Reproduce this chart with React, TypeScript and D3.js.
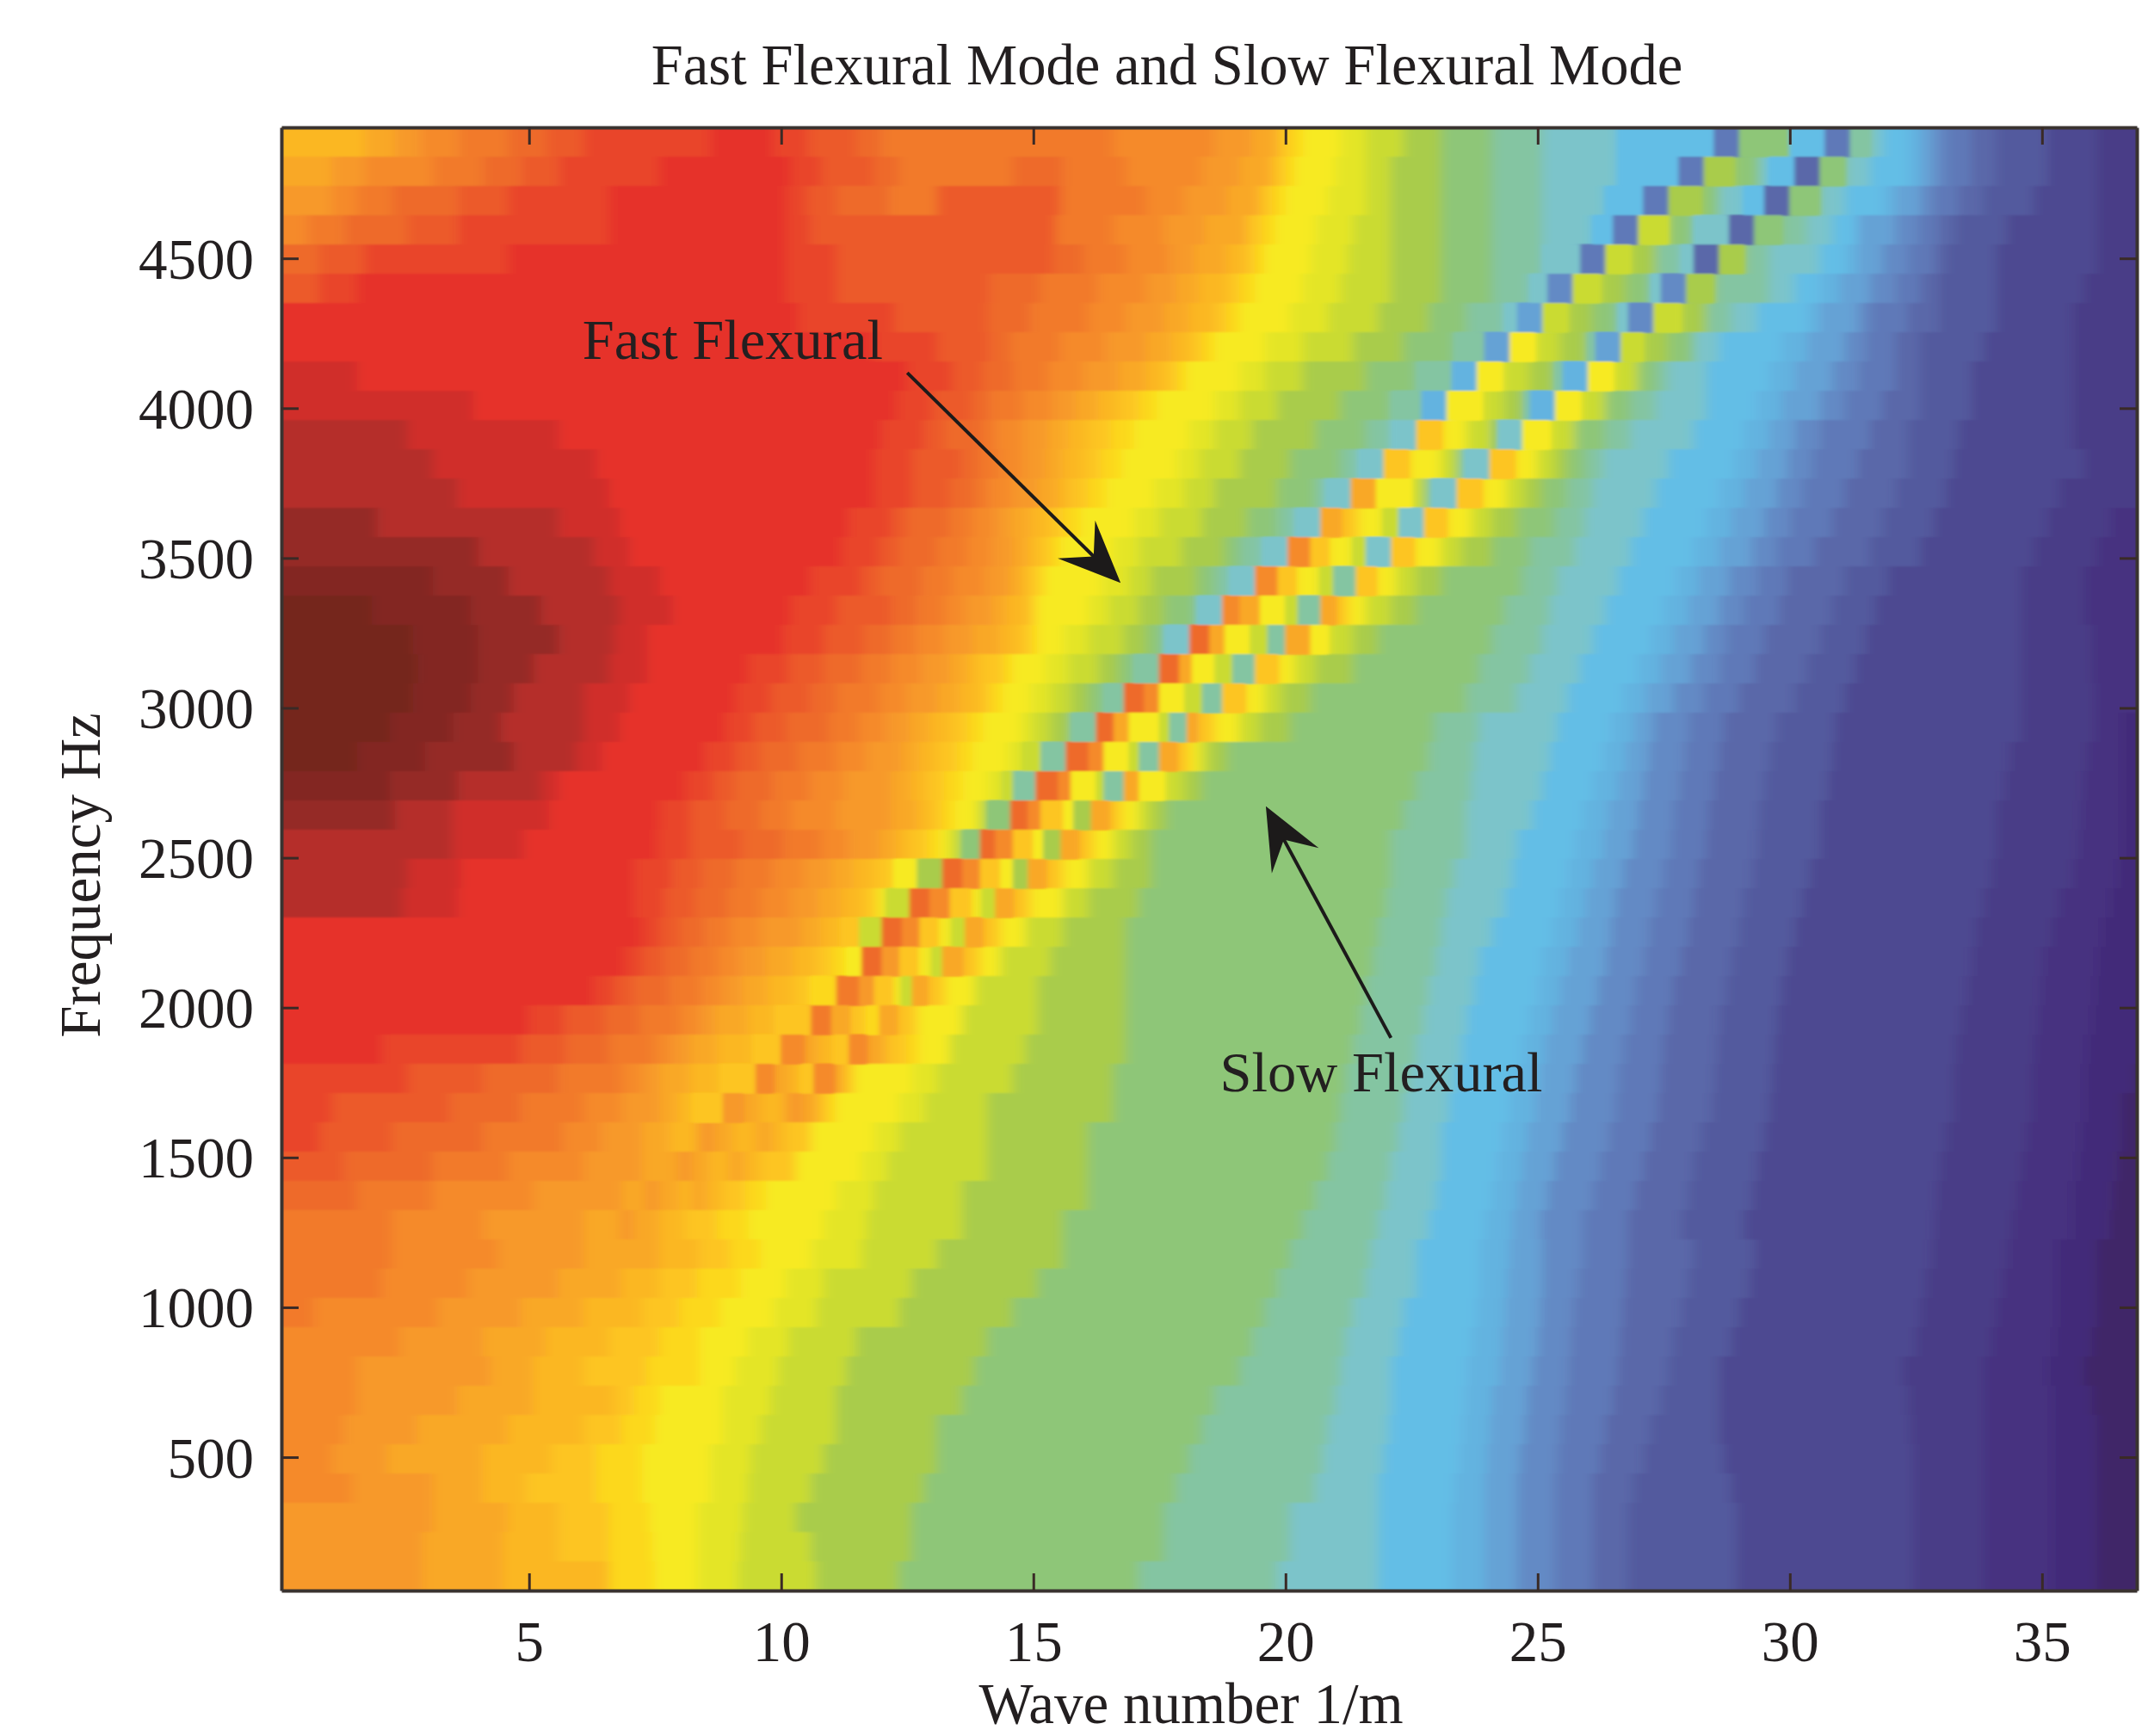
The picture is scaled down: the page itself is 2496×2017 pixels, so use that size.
import * as d3 from "d3";
import { useEffect, useRef } from "react";

const xTicks = [5, 10, 15, 20, 25, 30, 35];
const yTicks = [500, 1000, 1500, 2000, 2500, 3000, 3500, 4000, 4500];

// colour steps of the map, low to high
const levelNames = "abcdefghijklmnopqQrRsStTuVvWwxXyYZz".split("");
const levelColors = [
  "#3f2868", "#432b79", "#463380", "#493c87", "#4e4a91", "#535a9e", "#5a68a9", "#5f79b8", "#648ac5",
  "#65a2d5", "#63b3e0", "#63bee6", "#7cc4ca", "#84c5a2", "#8ec678", "#a9cc4c", "#cadb32", "#e4e526",
  "#f7ea20", "#fcd81e", "#fdc520", "#fbb722", "#f9a825", "#f7992a", "#f58a2b", "#f27a2b", "#ee6a2b",
  "#ec5a2a", "#e9452a", "#e6302a", "#d02e29", "#b52e29", "#952a25", "#832822", "#74251f",
];

// one row per frequency bin (97.66 Hz apart), top row first
const frequencies = d3.range(50, 0, -1).map((k) => k * 97.66);

// each token: colour step + wave number column where it starts (column = 0.5 1/m)
const heatRows = [
  "S0 t3.3 T4.5 u5.5 V7 v9 W10.5 w12 x17 w19.5 W20.9 v22.8 V23.8 u33 T37 t38.5 s39.5 R40 r40.5 Q42 q43 p44.5 o46 n48 m50 l53 h56.8 o57.8 l59.8 h61.2 n62.2 m63 l63.5 k64.5 j65 i65.5 h66 g67 f68 e70 d72",
  "t0 T2 u3.3 V6 v8 W9.5 w11 x15 w20.2 W21.4 v23.5 V24.5 v29 V31 u33.5 T36.5 t38 s39.3 R39.8 r40.2 Q41.8 q43 p44 o46 n48 m50 l53 h55.4 p56.4 o57.6 m58.6 l59 g60 o61 m62 l63 k64.5 j65 i65.5 h66 g67 f68 e70 d72",
  "T0 u2 V3 v4.4 W7 w9 x13 w20 W20.8 v22 V24.1 W26 V30.9 u34.3 T35.8 t37.5 s38.8 R39.3 r39.8 Q41.5 q43 p44 o46 n48 m50 l52.5 h54 p55 o56.3 m57 l58 g58.8 o59.8 m61 l62 k63.5 j64 i65 h65.5 g66.5 f67.5 e69.5 d72",
  "u0 V1 v2.5 W5 w7 x13 w20 W21 V30.7 u33 T35 t36.6 s38.3 R38.9 r39.4 Q41 q42.5 p44 o46 n48 m50 l52 h52.8 q53.8 o55 m56 g57.4 o58.4 n59.5 m60.5 l61.5 j62.5 i64 h64.9 g65.7 f66.4 e68.4 d72",
  "v0 W1.5 w3.3 x9 w20 W22 v30.6 V31.8 u33.5 T35.2 t36.2 S37.5 s38.2 R38.6 r39 Q40.8 q42.3 p44 o46 n48 m50 h51.5 q52.5 p53.5 n54.5 m55.5 g56 p57 n58 m59 l61 k62 j62.5 i63.5 h64.5 g65.5 f66 e68 d72",
  "W0 w1.5 x3 w20 W22 v28.1 V30.1 u32.4 T34.3 t35.5 S36.4 s37.5 R38 r38.6 Q40.5 q42 p44 o46 n48 m49.5 i50.2 q51.2 p52.3 o53.3 m54.3 i54.7 p55.7 n56.8 m59 l60 k61 j61.8 i63 h64 g65 f65.7 e68 d71.5",
  "x0 w20.5 W24.3 v28 V29.7 u32 T33.5 t35 S36 s37 R37.5 r38 Q40 q41.5 p43.5 o45.5 n47 m48.5 j49 q50 p51 o52 m53 i53.4 q54.4 p55.5 n56.5 m57.5 l58.5 k60.5 j61 i62.5 h63 g64.5 f65.7 e68 d71",
  "x0 w23.5 W26 v28.1 V28.9 u30.9 T32.7 t34.3 S35.3 s36 R36.5 r37 Q39 q40.5 p42.5 o44.5 n46.5 j47.7 r48.7 q49.7 p50.7 n51.8 j52.1 q53.1 p54 o55 m56 l57 k59.5 j60.5 i62 h62.8 g64 f65 e67.5 d71",
  "X0 x3 w24.8 W26.6 v27.8 V29 u30.4 T31.8 t33.2 S34.3 s35 R35.5 r35.9 Q38 q39 p40.5 o43 n45 k46.4 r47.4 q48.4 p49.5 n50.5 k50.8 r51.8 q52.8 o53.8 n54.5 m55 l56.5 k59 j60 i61.5 h62.5 g64 f65 e67 d71",
  "X0 x7.6 w24.4 W25.8 v27.4 V28.1 u29.4 T30.6 t31.5 S32.4 s33.2 R34 r34.7 Q37 q38 p39.5 o42 n44 k45.2 r46.2 q47.6 p48.5 n49.3 k49.5 r50.5 q51.5 o52.5 n53.5 m54.5 l56.5 k58.5 j59.5 i61 h62 g63.5 f65 e67 d71",
  "y0 X5 x11 w23.8 W25.5 v26.3 V27.8 u28.4 T29.4 t30.4 S31.2 s32 R32.9 r33.8 Q36 q37 p38.5 o41 n43 m44 s45 r46 q47 p48 m48.2 r49.2 q50.3 o51.3 n52.5 m53.5 l56 k58 j59 i60 h61 g63 f64.5 e66.5 d71",
  "y0 X6 x12.5 w23.5 W25 v27 V27.7 u28.5 T29.4 t30.3 S31 s31.8 R32.5 r33.3 Q35.5 q36.4 p38 o40 n42 m42.7 s43.7 r44.7 q46 o46.6 m46.9 s47.9 r48.9 q49.8 p50.5 o51 n51.7 m52.4 l55 k57.6 j58.5 i59.7 h60.7 g62.5 f64.5 e66.3 d71.5",
  "y0 X7 x13 w23.5 W25 v26.5 V27.5 u28.1 T29 t30 S30.8 s31.3 R32 r32.7 Q34.6 q35.8 p37 o39.5 n41 m41.4 t42.4 r43.4 q44.8 o45.3 m45.6 s46.6 r47.6 q48.6 p49.3 o50 n51 m52 l54.5 k57 j58 i59.3 h60.3 g62 f64 e66 d70.5",
  "Y0 y3.8 X11 x13.4 w22.5 W24.2 v24.8 V26.5 u27.4 T28.3 t28.9 S29.7 s30.4 R31 r31.7 Q33.8 q34.8 p36.5 o38.3 n39.5 m40.2 t41.2 s42 r42.7 q43.7 m44.3 s45.3 r46.2 q47.2 p48 o49 n50.5 m51.7 l54 k56.5 j57.5 i58.8 h59.8 g61.5 f63.5 e65.5 d70 c72.5",
  "Y0 y7.8 X12.4 x13.8 w22.2 W23.7 v24.5 V26 u27.2 T28.2 t29 S29.6 s30 R30.5 r30.9 Q33 q34 p35.7 o37.4 n38 m38.9 u39.9 s40.8 r41.5 q42.5 m43 s44 r44.9 q46 p46.8 o48 n49.5 m51.3 l53.5 k56 j57 i58.3 h59.3 g60.8 f63 e65 d69.5 c72",
  "Z0 Y6 y9 X13 x15 w21 W23 v23.7 V25.4 u26.6 T27.9 t28.8 S29.3 s29.6 R30 r30.3 Q32.5 q33.6 p34.5 o36.3 n37 m37.6 u38.6 s39.5 r40.2 q41.2 n41.7 s42.6 r43.4 q44.2 p45 o46 n49.2 m50.6 l53 k55.3 j56.2 i57.4 h58.5 g59.7 f62 e63.7 d69 c71.5",
  "z0 Z3.6 Y7.5 y10.3 X13.4 x15.5 w20.2 W22 v24.2 V25.2 u26.3 T27.1 t28.2 S28.8 s29.6 R29.8 r30 Q32 q32.8 p34 o35 m36.3 u37.3 t38 r38.8 q39.8 n40.3 t41.2 s41.8 r42.3 q43 p44 o45 n48.5 m50.3 l52.5 k54.8 j55.8 i57 h58 g59.4 f61.5 e63.2 d69 c71.5",
  "z0 Z5.2 Y7.8 y11 X13.2 x14.5 w19.9 W21.5 v23.1 V24.2 u25.2 T26.3 t27.4 S28.5 s29.2 R29.7 r30 Q31 q32 p33.4 o34.3 m35 v36 t36.8 r37.4 q38.4 n39.1 t39.8 r40.8 q41.5 p42.5 o43.5 n48 m50 l52 k54.3 j55.2 i56.4 h57.3 g58.8 f61 e62.8 d69 c71.8",
  "z0 Z5.4 Y7.8 y10 X13 x14.5 w18.5 W20.1 v21.5 V23 u24.2 T25.4 t26.5 S27.2 s27.7 R28.6 r29 Q30.3 q31.2 p32.4 o33.2 n33.8 v34.8 t35.6 r36.1 q37 n37.7 s38.6 r39.5 q40.2 p41 o42.5 n47.5 m49.5 l51.5 k53.8 j54.7 i55.9 h57 g58.4 f60.5 e62.4 d69 c71.8",
  "z0 Z5.2 Y7.5 y9.2 X12 x13.8 w18 W19.4 v21 V22 u23.7 T24.8 t26 S26.9 s27.7 R28.1 r28.6 Q29.7 q30.5 p31.3 o32 n32.6 v33.4 u34.2 r34.8 q35.8 n36.5 s37.3 r38.2 q39 p39.7 o40.8 n47 m49 l51 k53.2 j54.1 i55.2 h56.4 g57.8 f60 e62 d69 c71.9",
  "z0 Z4.3 Y6.8 y8.7 X12 x13.4 w17.6 W18.7 v20 V21.7 u22.9 T24 t24.9 S25.7 s26.5 R27.2 r27.8 Q29.3 q29.8 p30.5 n31.3 v32.3 t33 r33.6 q34.8 n35.2 t35.9 s36.3 r37 q38 p38.8 o40 n45.7 m47.5 l50.6 k52.7 j53.6 i54.4 h55.8 g57.2 f59.3 e61.6 d69 c71.9 b73",
  "z0 Z3 Y5.7 y9.2 X11.7 x12.7 w16.8 W18 v19 V20.5 u22 T23.2 t24.6 S25.3 s26 R26.8 r27.4 Q28.8 q29.4 n30.1 v31.1 u32 r32.6 q33.6 n34 t34.8 s35.5 r36 q36.4 p36.8 o37.5 n45.5 m47.3 l50.3 k52.4 j53.3 i54.2 h55.6 g57 f59 e61.5 d68.5 c71.6 b73",
  "Z0 Y4.3 y7 X10.3 x11 w16 W17.1 v18 V19.5 u21 T22.3 t24.2 S25 s25.6 R26.3 r27 Q28 q28.6 n29 v29.9 u30.8 r31.3 q32.3 n32.6 t33.4 r34 q35 p35.8 o36.5 n45 m47.2 l50 k52 j53 i54 h55.4 g56.8 f58.8 e61.3 d68.3 c71.4 b73",
  "Y0 y4.5 X6.8 x10.6 w15 W16.2 v17.6 V19 u20.2 T22 t24.2 S25.2 s25.7 R26.2 r26.7 q27.6 o28 v28.9 u29.6 s30.1 r31 p31.4 t32.1 s32.8 r33.3 q34 p34.5 o35.1 n44.5 m47 l49.6 k51.6 j52.6 i53.8 h55.2 g56.6 f58.6 e61 d68 c71.3 b73",
  "y0 X6.8 x9.6 w14.9 W16.2 v18.3 V19.9 u21.4 T22.5 t23.7 S24.4 s24.9 R25.6 r26.1 q26.5 o27 v27.7 u28.3 s29 r29.8 p30.2 t30.9 s31.6 r32.2 q33 p33.7 o34.5 n44 m47 l49 k51.3 j52.4 i53.6 h55.1 g56.5 f58.5 e61 d68 c71.2 b73",
  "y0 X5 x7.1 w14 W15.5 v16.7 V18 u19.5 T20.7 t21.8 S22.7 s23.5 r24.3 p25.2 v26.2 u27 s27.7 r28.5 p29 t29.6 s30.3 r31 q32 p33 o34.5 n44 m46.5 l48.8 k51 j52 i53.2 h54.8 g56.2 f58.3 e60.6 d67.8 c71 b72.8",
  "y0 X4.8 x7 w14 W15.2 v16.4 V17.7 u19 T20.2 t21.3 S22.2 s23 r23.6 q24 v24.9 u25.7 s26.5 r27.3 q27.8 t28.3 s29 r29.7 q31 p32 o34 n43.8 m46.2 l48.5 k50.7 j51.7 i52.9 h54.5 g56 f58 e60.3 d67.5 c70.5 b72.5",
  "x0 w14.3 W15 v15.8 V16.8 u17.8 T19 t20.6 S21.4 s22.2 q22.9 v23.8 u24.6 s25.3 r26 q26.6 t27.1 s27.8 r28.5 q29.5 p31 o33.5 n43.5 m46 l48 k50.4 j51.4 i52.7 h54.2 g55.8 f57.8 e60 d67.2 c70.2 b72.2",
  "x0 w13.6 W14.3 v15.2 V16.2 u17.3 T18.2 t19.2 S20.3 s21.2 R21.8 r22.4 v23 T23.8 s24.5 r25.2 q25.8 t26.2 s27 r27.7 q28.5 p30.5 o33.5 n43.3 m45.8 l47.5 k50 j51 i52.5 h54 g55.5 f57.5 e59.7 d67 c69.8 b72",
  "x0 w12.4 W13.2 v14 V15.4 u16.7 T17.5 t18.3 S19.3 s20.3 R21 V22 T22.9 s23.5 r24.2 q24.6 t25 s25.6 r26.3 q27.5 p30 o33.5 n43 m45.5 l47.3 k49.8 j50.7 i52.2 h53.7 g55.2 f57.3 e59.5 d66.8 c69.7 b71.9",
  "x0 w9.8 W11.2 v12.8 V14.2 u15.8 T16.6 t17.2 S18.5 s19.6 V21 t21.8 s22.5 R23.2 t23.7 s24.4 r25.2 q27 p30 o33.5 n42.8 m45.3 l47 k49.5 j50.4 i51.9 h53.5 g55 f57 e59.3 d66.6 c69.6 b71.8",
  "x0 w4 W9.5 v11.3 V13 u14.8 T15.5 t16.2 S17.3 s18.7 u19.8 t20.7 S21.3 s21.9 u22.5 t23.2 s24 R24.8 r25.3 q26.5 p29.5 o33.5 n42.5 m45 l46.8 k49.2 j50.1 i51.6 h53.2 g54.8 f56.9 e59.2 d66.4 c69.5 b71.6",
  "w0 W5 v8 V11 u13.5 T14.3 t15 S16.2 s17.4 u18.8 t19.5 S20.2 s20.6 u21.1 t21.9 s22.3 r22.7 Q25 q26 p29 o33 n42.2 m44.7 l46.5 k49 j49.9 i51.3 h53 g54.7 f56.8 e59.1 d66.3 c69.4 b71.5 a73.5",
  "w0 W2 v6.7 V9.5 u12 T13.5 t15 S15.7 s16.3 T17.5 t18.3 S19 T20 t20.7 s21.3 R21.7 r22 Q24.5 q25.5 p28 o33 n42 m44.5 l46.3 k48.7 j49.7 i51.1 h52.9 g54.6 f56.7 e59 d66.3 c69.4 b71.5 a73",
  "w0 W1.5 v4.4 V8 u11.2 T12.7 t14.3 S15.4 T16.5 t17.2 S17.9 t18.8 S19.5 s20 r21 Q23.5 q24.5 p28 o32 n41.8 m44.3 l46 k48.4 j49.4 i50.8 h52.6 g54.3 f56.3 e58.8 d66 c69.2 b71.3 a73",
  "W0 v2.5 V6 u9 T12 t14.3 T15.7 t16.3 S17 t17.7 S18.4 s19 r20.4 Q23 q24 p28 o32 n41.5 m44 l46 k48.2 j49.2 i50.5 h52.3 g54 f56 e58.5 d65.8 c69 b71.2 a72.8",
  "v0 V3 u6 T10 t13.5 T14.4 t15 S15.8 t16.2 S16.9 s17.5 R18.4 r19.2 Q22 q23.5 p27 o32 n41 m43.8 l45.8 k48 j49 i50.2 h52 g53.7 f55.8 e58.3 d65.6 c68.8 b71 a72.6",
  "V0 u4.4 T8 t12 T13.4 t14 S15 s16 R17.3 r18.5 Q21.5 q23.2 p27 o31 n40.5 m43.5 l45.5 k47.7 j48.8 i49.9 h51.6 g53.4 f55.5 e58 d65.5 c68.6 b71 a72.5",
  "V0 u4.4 T8.6 t12 S15 s16.6 R17.8 r19 Q21 q23 p26 o31 n40 m43.2 l45 k47.5 j48.7 i50 h51.6 g53.4 f56 e58.4 d65.4 c68.4 b70.4 a72",
  "V0 u4 T7.4 t11 S13.5 s15 R16.5 r18.2 Q20 q21.5 p25 o30 n39.5 m43 l45 k47.5 j48.6 i50 h51.4 g53.3 f55.8 e58.2 d65.2 c68.2 b70.4 a72",
  "V0 u1.3 T6.2 t9.5 S12 s14.3 R15.8 r17.4 Q19.5 q21.2 p24.5 o29 n39 m42.5 l44.5 k47.4 j48.5 i49.9 h51.2 g53.2 f55.5 e57.8 d65 c68 b70.4 a72",
  "u0 T4.7 t8 S10.5 s13 R15 r16.6 Q18.5 q20.1 p22.8 o28 n38.5 m42.2 l44.3 k47.2 j48.4 i49.8 h51.1 g53.1 f55.2 e57.5 d64.8 c67.8 b70.3 a71.8",
  "u0 T3 t8.3 S10 s12 R14.5 r16.6 Q18 q19.7 p22.4 o27.5 n38 m42 l44 k47 j48.3 i49.6 h51 g53 f55 e57 d64.3 c67.5 b70 a71.5",
  "u0 T3 t7 S10 s13.2 R14 r15 Q17.5 q19.4 p22 o27 n37 m41.8 l44 k46.9 j48 i49.4 h50.9 g52.8 f54.7 e57 d64.5 c67.5 b70.2 a71.8",
  "u0 T2.5 t5.4 S9 s12 R13.5 r14.8 Q17.5 q19 p22 o26 n36.5 m41.5 l43.9 k46.8 j47.9 i49.3 h50.7 g52.5 f54.3 e57 d64.6 c67.5 b70.2 a72",
  "u0 T2 t4.2 S8 s10.7 R12.5 r14.3 Q17 q18.6 p21.5 o26 n36 m41.3 l43.7 k46.7 j47.8 i49.1 h50.6 g52.3 f54 e57.2 d64.7 c67.5 b70.2 a72",
  "u0 T2.8 t6 S8 s9.7 R12.5 r14.3 Q17 q18.5 p21 o25.5 n35.5 m41 l43.5 k46.5 j47.7 i49 h50.5 g52 f53.6 e57.5 d64.7 c67.5 b70.2 a72",
  "T0 t6 S9 s11 R13 r14.6 Q16.5 q18.3 p20.4 o25 n35 m40 l43.5 k46.4 j47.7 i49 h50.5 g52 f53.4 e57.7 d64.7 c67.5 b70.2 a72",
  "T0 t5.6 S8.8 s11 R13 r14.7 Q16.5 q18.2 p21 o25 n35 m40 l43.5 k46.4 j47.7 i49 h50.5 g52 f53.4 e57.7 d64.7 c67.5 b70.2 a72",
  "T0 t5.6 S8.8 R13 r14.8 Q16.5 q18.1 p21.2 o24.5 n34 m39.5 l43.5 k46.4 j47.7 i49 h50.5 g52 f53.4 e57.7 d64.7 c67.5 b70.2 a72",
];

// arrows: tail and tip in wave number / frequency
const arrows = [
  { tail: [12.5, 4118], tip: [16.73, 3417] },
  { tail: [22.09, 1899], tip: [19.61, 2672] },
];
const labels = [
  { text: "Fast Flexural", k: 6.06, f: 4165 },
  { text: "Slow Flexural", k: 18.7, f: 1722 },
];

const width = 2496;
const height = 2017;
const margin = { left: 327, right: 2483, top: 148, bottom: 1848 };
const font = "'Liberation Serif', serif";

const App = () => {
  const svgRef = useRef<SVGSVGElement>(null);

  useEffect(() => {
    const svg = d3.select(svgRef.current);
    svg.selectAll("*").remove();

    const x = d3.scaleLinear().domain([0.09, 36.88]).range([margin.left, margin.right]);
    const y = d3.scaleLinear().domain([55, 4937]).range([margin.bottom, margin.top]);
    const rowBand = d3.scaleBand<number>().domain(frequencies).range([margin.top, margin.bottom]);
    const color = d3.scaleOrdinal<string, string>().domain(levelNames).range(levelColors);
    const columnToWave = (c: number) => 0.09 + c * 0.5;

    const defs = svg.append("defs");
    defs
      .append("clipPath")
      .attr("id", "plot-clip")
      .append("rect")
      .attr("x", margin.left)
      .attr("y", margin.top)
      .attr("width", margin.right - margin.left)
      .attr("height", margin.bottom - margin.top);
    [
      { id: "soft-back", blur: "7 1" },
      { id: "soft-front", blur: "2.5 0.8" },
    ].forEach((f) => {
      defs
        .append("filter")
        .attr("id", f.id)
        .attr("filterUnits", "userSpaceOnUse")
        .attr("x", 0)
        .attr("y", 0)
        .attr("width", width)
        .attr("height", height)
        .append("feGaussianBlur")
        .attr("stdDeviation", f.blur);
    });

    const clip = svg.append("g").attr("clip-path", "url(#plot-clip)");
    const back = clip.append("g").attr("filter", "url(#soft-back)");
    const front = clip.append("g").attr("filter", "url(#soft-front)");

    heatRows.forEach((row, r) => {
      const freq = frequencies[r];
      const runs = row.split(" ").map((t) => ({ level: t[0], start: +t.slice(1) }));
      // first/last rows and columns run past the frame so the blur has no pale edge
      const top = rowBand(freq)! - (r === 0 ? 20 : 0);
      const bottom = rowBand(freq)! + rowBand.bandwidth() + (r === frequencies.length - 1 ? 20 : 0);
      const left = (i: number) => (i === 0 ? margin.left - 40 : x(columnToWave(runs[i].start)));
      const right = (i: number) => (i === runs.length - 1 ? margin.right + 40 : x(columnToWave(runs[i + 1].start)));
      const step = (i: number) => levelNames.indexOf(runs[i].level);
      // the dips and peaks of the two modes jump several steps and stay sharper
      const sharp = runs.filter((_, i) => {
        const before = i > 0 ? Math.abs(step(i) - step(i - 1)) : 0;
        const after = i < runs.length - 1 ? Math.abs(step(i) - step(i + 1)) : 0;
        return Math.max(before, after) >= 3;
      });

      back
        .selectAll(null)
        .data(runs)
        .enter()
        .append("rect")
        .attr("x", (d, i) => left(i))
        .attr("y", top)
        .attr("width", (d, i) => right(i) - left(i) + 0.5)
        .attr("height", bottom - top + 0.5)
        .attr("fill", (d) => color(d.level));

      front
        .selectAll(null)
        .data(sharp)
        .enter()
        .append("rect")
        .attr("x", (d) => left(runs.indexOf(d)))
        .attr("y", top)
        .attr("width", (d) => right(runs.indexOf(d)) - left(runs.indexOf(d)) + 0.5)
        .attr("height", bottom - top + 0.5)
        .attr("fill", (d) => color(d.level));
    });

    // frame and inward ticks on all four sides
    const tickSize = 20;
    const axes = [
      { axis: d3.axisBottom(x).tickValues(xTicks).tickSize(-tickSize), at: `translate(0,${margin.bottom})`, labels: true },
      { axis: d3.axisTop(x).tickValues(xTicks).tickSize(-tickSize), at: `translate(0,${margin.top})`, labels: false },
      { axis: d3.axisLeft(y).tickValues(yTicks).tickSize(-tickSize), at: `translate(${margin.left},0)`, labels: true },
      { axis: d3.axisRight(y).tickValues(yTicks).tickSize(-tickSize), at: `translate(${margin.right},0)`, labels: false },
    ];
    axes.forEach(({ axis, at, labels: showLabels }, i) => {
      const g = svg.append("g").attr("transform", at).call(axis.tickSizeOuter(0).tickPadding(0) as any);
      g.selectAll("path.domain").attr("stroke", "#3a3330").attr("stroke-width", 4);
      g.selectAll(".tick line").attr("stroke", "#3a2a26").attr("stroke-width", 3);
      g.selectAll(".tick text").remove();
      if (!showLabels) return;
      g.selectAll(".tick")
        .append("text")
        .attr("fill", "#231f20")
        .attr("stroke", "none")
        .attr("font-family", font)
        .attr("font-size", 67)
        .attr("text-anchor", i === 0 ? "middle" : "end")
        .attr("x", i === 0 ? 0 : -32)
        .attr("y", i === 0 ? 82 : 23)
        .text((d: any) => String(d));
    });

    // annotation arrows with notched heads
    const arrowGroup = svg.append("g");
    arrows.forEach(({ tail, tip }) => {
      const [x0, y0] = [x(tail[0]), y(tail[1])];
      const [x1, y1] = [x(tip[0]), y(tip[1])];
      const angle = Math.atan2(y1 - y0, x1 - x0);
      const point = (along: number, across: number) => [
        x1 + along * Math.cos(angle) - across * Math.sin(angle),
        y1 + along * Math.sin(angle) + across * Math.cos(angle),
      ];
      arrowGroup
        .append("line")
        .attr("x1", x0)
        .attr("y1", y0)
        .attr("x2", point(-40, 0)[0])
        .attr("y2", point(-40, 0)[1])
        .attr("stroke", "#1c1a1a")
        .attr("stroke-width", 4);
      arrowGroup
        .append("path")
        .attr("d", d3.line()([point(0, 0), point(-72, 31), point(-44, 0), point(-72, -31)] as [number, number][]) + "Z")
        .attr("fill", "#1c1a1a");
    });

    const textStyle = (sel: any, size: number) =>
      sel.attr("font-family", font).attr("font-size", size).attr("fill", "#231f20");

    labels.forEach((l) => {
      textStyle(svg.append("text").attr("x", x(l.k)).attr("y", y(l.f)), 66.5).text(l.text);
    });

    textStyle(svg.append("text").attr("x", 1356).attr("y", 98).attr("text-anchor", "middle"), 66.6).text(
      "Fast Flexural Mode and Slow Flexural Mode"
    );
    textStyle(svg.append("text").attr("x", 1384).attr("y", 2002).attr("text-anchor", "middle"), 67).text(
      "Wave number 1/m"
    );
    textStyle(
      svg.append("text").attr("text-anchor", "middle").attr("transform", "translate(116,1017) rotate(-90)"),
      67
    ).text("Frequency Hz");
  }, []);

  return (
    <svg
      ref={svgRef}
      width={width}
      height={height}
      style={{ position: "absolute", left: 0, top: 0, background: "#fff", display: "block" }}
    ></svg>
  );
};

export default App;
